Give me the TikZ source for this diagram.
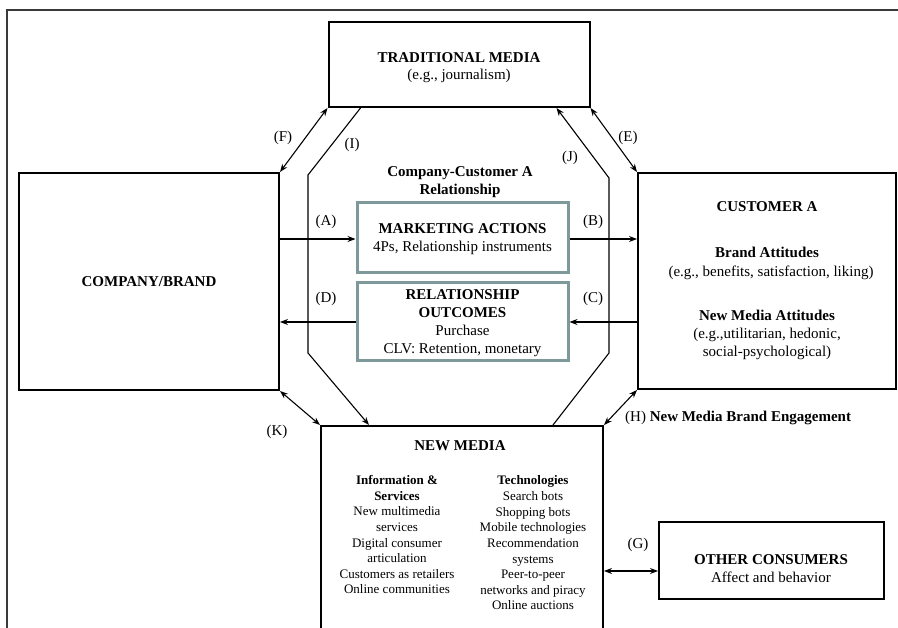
\documentclass[tikz,border=0pt]{standalone}
\usepackage{fontspec}
\setmainfont{Liberation Serif}
\usetikzlibrary{arrows.meta,calc}
\definecolor{boxteal}{HTML}{7D9999}
\definecolor{framegray}{HTML}{3A3A3A}
\begin{document}
\begin{tikzpicture}[x=1pt,y=-1pt,
  box/.style={draw=black,line width=2pt,inner sep=0pt},
  mbox/.style={draw=boxteal,line width=3pt,inner sep=0pt},
  tip/.tip={Stealth[length=8pt,width=6pt]},
  conn/.style={line width=1.1pt,-tip},
  dconn/.style={line width=1.1pt,tip-tip},
  t/.style={font=\fontsize{15}{18}\selectfont,inner sep=0pt,anchor=base},
  tb/.style={t,font=\fontsize{15}{18}\selectfont\bfseries},
  s/.style={font=\fontsize{13}{15.7}\selectfont,inner sep=0pt,anchor=base},
  sb/.style={s,font=\fontsize{13}{15.7}\selectfont\bfseries},
  ]
\clip (0,0) rectangle (898,628);
\draw[line width=1.5pt,framegray] (7,640) -- (7,10) -- (900,10);

% boxes
\node[box,minimum width=261pt,minimum height=85pt] (trad) at (459,64.5) {};
\node[box,minimum width=260pt,minimum height=217pt] (comp) at (149,281.5) {};
\node[box,minimum width=258pt,minimum height=216pt] (cust) at (767,281) {};
\node[box,minimum width=282pt,minimum height=224pt] (nm) at (462,538) {};
\node[box,minimum width=225pt,minimum height=77pt] (oth) at (771.5,560.5) {};
\node[mbox,minimum width=211pt,minimum height=70pt] (mkt) at (462.5,238) {};
\node[mbox,minimum width=211pt,minimum height=78pt] (rel) at (462.5,322) {};

% texts
\node[tb] (tradT) at (459,63) {TRADITIONAL MEDIA};
\node[t] (tradS) at (459,80) {(e.g., journalism)};
\node[tb] (relT1) at (460,177) {Company-Customer A};
\node[tb] (relT2) at (460,195) {Relationship};
\node[tb] (mktT) at (462.5,234) {MARKETING ACTIONS};
\node[t] (mktS) at (462.5,252) {4Ps, Relationship instruments};
\node[tb] (relA) at (462.5,300) {RELATIONSHIP};
\node[tb] (relB) at (462.5,318) {OUTCOMES};
\node[t] (relC) at (462.5,336) {Purchase};
\node[t] (relD) at (462.5,354) {CLV: Retention, monetary};
\node[tb] (compT) at (149,287) {COMPANY/BRAND};
\node[tb] (custT) at (767,212) {CUSTOMER A};
\node[tb] (custB) at (767,258) {Brand Attitudes};
\node[t] (custBs) at (771,277) {(e.g., benefits, satisfaction, liking)};
\node[tb] (custN) at (767,321) {New Media Attitudes};
\node[t] (custNs1) at (767,339) {(e.g.,utilitarian, hedonic,};
\node[t] (custNs2) at (767,357) {social-psychological)};
\node[tb] (nmT) at (460,451) {NEW MEDIA};
\node[tb] (othT) at (771,565) {OTHER CONSUMERS};
\node[t] (othS) at (771,583) {Affect and behavior};

\foreach \txt [count=\i] in {Information \&,Services}
  \node[sb] (nmLb\i) at (397,{485+15.6*(\i-1)}) {\txt};
\foreach \txt [count=\i] in {New multimedia,services,Digital consumer,articulation,Customers as retailers,Online communities}
  \node[s] (nmL\i) at (397,{516+15.6*(\i-1)}) {\txt};
\node[sb] (nmRb) at (533,485) {Technologies};
\foreach \txt [count=\i] in {Search bots,Shopping bots,Mobile technologies,Recommendation,systems,Peer-to-peer,networks and piracy,Online auctions}
  \node[s] (nmR\i) at (533,{500.6+15.6*(\i-1)}) {\txt};

% connectors
\draw[dconn] (trad.south west) -- (comp.north east);
\draw[dconn] (trad.south east) -- (cust.north west);
\draw[dconn] (comp.south east) -- (nm.north west);
\draw[dconn] (cust.south west) -- (nm.north east);
\draw[conn] ($(mkt.west -| comp.east)+(0,1)$) -- ($(mkt.west)+(0,1)$);
\draw[conn] ($(mkt.east)+(0,1)$) -- ($(mkt.east -| cust.west)+(0,1)$);
\draw[conn] (rel.east -| cust.west) -- (rel.east);
\draw[conn] (rel.west) -- (rel.west -| comp.east);
\coordinate (gA) at ($(oth.west)+(0,10.5)$);
\draw[dconn] (gA -| nm.east) -- (gA);
\coordinate (oL1) at (308,175);
\coordinate (oL2) at (308,353);
\coordinate (oR1) at (609,178);
\coordinate (oR2) at (609,353);
\draw[conn] ($(trad.south west)+(33,0)$) -- (oL1) -- (oL2) -- ($(nm.north west)+(49,0)$);
\draw[conn] ($(nm.north east)+(-51,0)$) -- (oR2) -- (oR1) -- ($(trad.south east)+(-34,0)$);

% labels
\node[t] (lF) at (283,142) {(F)};
\node[t] (lE) at (628,142) {(E)};
\node[t] (lI) at (352,149) {(I)};
\node[t] (lJ) at (570,162) {(J)};
\node[t] (lA) at (326,226) {(A)};
\node[t] (lB) at (593,226) {(B)};
\node[t] (lD) at (326,303) {(D)};
\node[t] (lC) at (593,303) {(C)};
\node[t] (lK) at (277,436) {(K)};
\node[t] (lG) at (638,548) {(G)};
\node[t,anchor=base west] (lH) at (625,422) {(H) \textbf{New Media Brand Engagement}};
\end{tikzpicture}
\end{document}
